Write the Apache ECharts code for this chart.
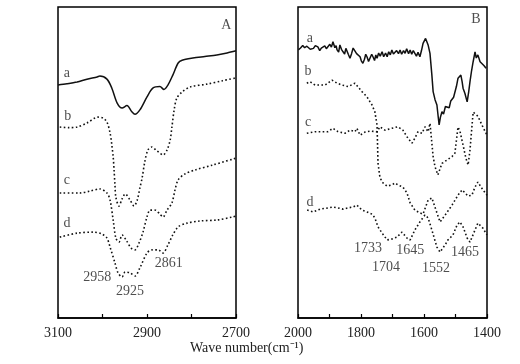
<!DOCTYPE html>
<html>
<head>
<meta charset="utf-8">
<script src="https://cdn.jsdelivr.net/npm/echarts@6/dist/echarts.min.js"></script>
<style>
html,body{margin:0;padding:0;background:#fff;}
#chart{width:520px;height:364px;}
</style>
</head>
<body>
<div id="chart"></div>
<script>
// Panel A: 3100-2700 cm-1  ([wavenumber, transmittance a.u.])
const aA = [[3100,74.9],[3080,75.3],[3057,75.9],[3035,76.8],[3012,77.5],[3006,77.8],[2990,76.8],[2979,73.9],[2967,69.1],[2956,67.5],[2945,68.3],[2934,66.3],[2927,65.5],[2916,66.9],[2900,71.1],[2887,73.9],[2871,74.4],[2862,73.5],[2853,74.9],[2842,78.1],[2830,82.0],[2821,82.9],[2797,83.6],[2770,84.1],[2743,84.6],[2720,85.2],[2700,85.9]];
const bA = [[3096,61.4],[3075,61.2],[3057,61.4],[3035,62.7],[3010,64.6],[2999,64.3],[2990,63.0],[2983,59.5],[2979,55.6],[2976,51.8],[2974,47.6],[2972,42.8],[2970,38.9],[2963,36.0],[2956,38.3],[2949,39.9],[2938,37.9],[2929,36.0],[2922,37.9],[2916,41.8],[2911,45.0],[2905,50.2],[2898,54.0],[2889,55.0],[2880,54.0],[2871,53.0],[2864,52.4],[2855,54.0],[2848,57.2],[2844,61.4],[2839,66.9],[2833,70.7],[2821,72.7],[2803,74.3],[2765,75.2],[2730,76.3],[2700,77.2]];
const cA = [[3096,40.2],[3051,40.2],[3028,40.8],[3006,41.5],[2990,40.2],[2983,37.9],[2976,31.5],[2970,25.7],[2963,24.4],[2956,26.7],[2947,25.1],[2936,22.5],[2927,21.9],[2918,24.1],[2909,27.6],[2900,32.5],[2893,34.7],[2882,34.7],[2871,33.4],[2864,32.5],[2855,34.7],[2844,37.0],[2837,41.2],[2830,44.4],[2815,46.3],[2792,47.6],[2752,49.2],[2700,51.4]];
const dA = [[3096,26.0],[3057,27.3],[3021,27.6],[3001,27.0],[2990,25.7],[2983,22.8],[2972,17.7],[2965,14.5],[2956,13.2],[2949,14.8],[2938,14.5],[2927,13.5],[2916,16.1],[2900,20.9],[2889,21.9],[2875,21.9],[2864,20.9],[2853,23.5],[2842,26.7],[2830,29.3],[2810,30.5],[2781,31.2],[2743,31.5],[2707,32.5],[2700,32.8]];

// Panel B: 2000-1400 cm-1
const aB = [[1999,86.2],[1992,86.8],[1985,87.6],[1979,86.9],[1972,87.4],[1967,87.2],[1961,86.4],[1956,87.0],[1951,86.7],[1945,87.6],[1937,87.2],[1931,86.0],[1926,86.8],[1921,86.2],[1915,87.5],[1910,86.6],[1905,87.2],[1899,88.0],[1894,87.1],[1889,88.8],[1883,86.9],[1879,87.6],[1876,86.2],[1871,85.5],[1867,87.8],[1862,86.4],[1857,85.6],[1852,84.9],[1848,86.7],[1844,86.7],[1840,84.7],[1835,83.5],[1830,85.0],[1825,86.8],[1819,86.2],[1814,85.0],[1808,85.6],[1803,84.0],[1799,82.7],[1794,81.9],[1789,83.2],[1785,84.8],[1781,84.0],[1776,82.5],[1771,82.9],[1766,84.8],[1762,84.0],[1757,82.8],[1753,84.6],[1749,83.5],[1744,85.2],[1739,84.2],[1733,85.6],[1728,84.0],[1722,85.2],[1717,84.0],[1712,85.6],[1707,84.6],[1702,86.2],[1697,84.9],[1692,84.6],[1687,86.0],[1681,85.0],[1676,86.2],[1671,84.8],[1665,86.0],[1660,85.1],[1655,86.6],[1649,85.0],[1644,86.2],[1639,84.8],[1634,86.0],[1629,85.1],[1624,84.2],[1619,85.4],[1613,84.0],[1608,86.0],[1603,88.3],[1595,89.9],[1590,88.6],[1587,87.8],[1581,85.1],[1575,78.1],[1571,72.8],[1565,70.2],[1559,68.5],[1555,64.8],[1552,62.1],[1548,64.5],[1543,66.3],[1538,65.6],[1532,68.0],[1527,68.5],[1520,67.6],[1515,69.8],[1511,69.5],[1506,71.0],[1502,70.6],[1497,74.5],[1492,77.1],[1483,78.1],[1479,76.0],[1476,73.9],[1470,72.2],[1463,69.5],[1458,72.8],[1454,76.0],[1449,79.5],[1444,82.4],[1438,85.6],[1434,83.6],[1429,84.6],[1422,82.4],[1416,81.9],[1410,81.2],[1403,80.3]];
const bB = [[1972,75.5],[1962,76.0],[1946,74.9],[1914,74.9],[1892,76.5],[1876,75.5],[1860,74.9],[1841,74.4],[1819,75.5],[1810,74.4],[1797,72.8],[1781,71.1],[1765,68.5],[1756,66.3],[1749,62.0],[1746,49.8],[1740,45.3],[1733,43.7],[1717,42.4],[1702,42.8],[1692,43.4],[1683,42.8],[1667,42.1],[1654,40.2],[1644,37.0],[1629,34.7],[1613,33.8],[1603,33.4],[1587,37.9],[1575,38.6],[1562,34.7],[1549,30.9],[1533,33.1],[1511,36.3],[1492,39.5],[1479,41.2],[1460,39.2],[1448,39.5],[1438,42.1],[1429,43.7],[1413,41.2],[1400,39.5]];
const cB = [[1972,59.4],[1946,59.9],[1905,59.9],[1889,61.0],[1873,59.9],[1851,59.4],[1835,60.4],[1819,59.9],[1813,61.0],[1803,58.8],[1787,59.8],[1771,60.1],[1749,59.9],[1740,61.5],[1724,60.4],[1702,61.0],[1683,61.5],[1667,60.4],[1651,57.8],[1638,56.2],[1629,57.8],[1619,59.9],[1606,59.4],[1597,61.5],[1587,59.9],[1581,62.6],[1575,56.2],[1571,51.9],[1565,48.6],[1556,46.0],[1543,49.7],[1527,50.8],[1511,51.9],[1502,53.0],[1492,61.4],[1486,60.1],[1476,55.6],[1467,51.4],[1460,49.2],[1454,54.0],[1444,66.2],[1429,64.9],[1413,61.4],[1400,58.8]];
const dB = [[1971,34.7],[1952,34.1],[1930,35.0],[1905,35.4],[1889,35.7],[1873,35.4],[1857,35.0],[1841,35.4],[1825,35.7],[1813,36.3],[1797,34.7],[1781,34.1],[1765,33.4],[1756,32.2],[1746,29.3],[1733,27.3],[1717,25.1],[1702,25.4],[1686,26.0],[1670,27.6],[1654,25.7],[1644,25.1],[1629,28.3],[1613,30.9],[1597,33.1],[1587,32.2],[1575,28.3],[1559,22.8],[1549,21.2],[1533,23.5],[1524,25.1],[1508,26.7],[1495,29.9],[1486,30.9],[1476,29.3],[1463,25.7],[1454,24.4],[1438,28.3],[1429,30.5],[1413,28.9],[1400,26.7]];

// Text annotations [wavenumber, value, text]
const notesA = [[3080,78.8,'a'],[3078,64.9,'b'],[3080,44.4,'c'],[3080,30.5,'d'],[2722,94.2,'A'],[3012,13.2,'2958'],[2938,8.7,'2925'],[2851,17.7,'2861']];
const notesB = [[1962,90.0,'a'],[1968,79.4,'b'],[1968,63.0,'c'],[1962,37.3,'d'],[1435,96.1,'B'],[1778,22.5,'1733'],[1721,16.4,'1704'],[1644,21.9,'1645'],[1562,16.1,'1552'],[1470,21.2,'1465']];

const FONT = 'Liberation Serif';
const solid = {color:'#111', width:1.5, type:'solid'};
const dotted = {color:'#111', width:1.6, type:[1.6,2.4], cap:'butt'};

function lineSeries(data, idx, style, smooth){
  return {type:'line', xAxisIndex:idx, yAxisIndex:idx, data:data, showSymbol:false, symbol:'none', smooth:smooth, lineStyle:style, silent:true};
}
function noteSeries(data, idx){
  return {type:'scatter', xAxisIndex:idx, yAxisIndex:idx, data:data, symbolSize:0, silent:true,
    label:{show:true, position:'inside', formatter:p=>p.data[2], fontFamily:FONT, fontSize:14, color:'#222'}};
}
function xAx(idx, min, max){
  return {gridIndex:idx, type:'value', min:min, max:max, interval:100, inverse:true,
    splitLine:{show:false},
    axisLine:{show:true, lineStyle:{color:'#000', width:1.5}},
    axisTick:{show:true, inside:true, length:4, lineStyle:{color:'#000', width:1.2}},
    axisLabel:{formatter:v=>((v-min)%200===0?String(v):''), fontFamily:FONT, fontSize:14, color:'#222', margin:8, showMinLabel:true, showMaxLabel:true}};
}
function yAx(idx){
  return {gridIndex:idx, type:'value', min:0, max:100, show:false};
}

const chart = echarts.init(document.getElementById('chart'), null, {renderer:'canvas'});
chart.setOption({
  animation:false,
  backgroundColor:'#fff',
  grid:[
    {left:58, right:284, top:7, bottom:46, show:true, borderColor:'#000', borderWidth:1.5},
    {left:298, right:33, top:7, bottom:46, show:true, borderColor:'#000', borderWidth:1.5}
  ],
  xAxis:[xAx(0,2700,3100), xAx(1,1400,2000)],
  yAxis:[yAx(0), yAx(1)],
  graphic:[{type:'text', left:190, top:341, style:{text:'Wave number(cm\u207B\u00B9)', font:'14px "Liberation Serif"', fill:'#222'}}],
  series:[
    lineSeries(aA,0,solid,0.3), lineSeries(bA,0,dotted,0.3), lineSeries(cA,0,dotted,0.3), lineSeries(dA,0,dotted,0.3),
    lineSeries(aB,1,solid,false), lineSeries(bB,1,dotted,false), lineSeries(cB,1,dotted,false), lineSeries(dB,1,dotted,false),
    noteSeries(notesA,0), noteSeries(notesB,1)
  ]
});
</script>
</body>
</html>
